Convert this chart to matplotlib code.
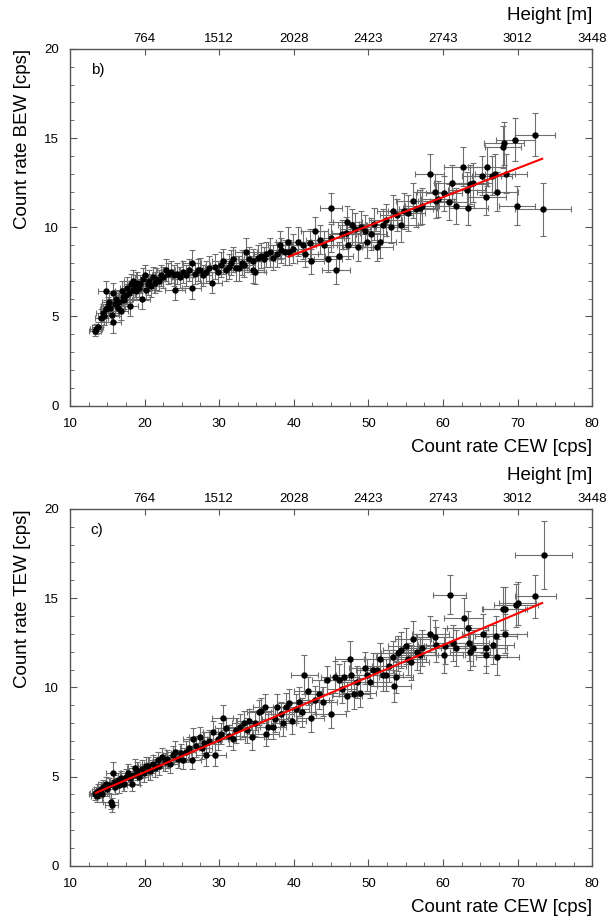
import numpy as np
import matplotlib
matplotlib.use("Agg")
import matplotlib.pyplot as plt
from matplotlib.ticker import MultipleLocator

plt.rcParams['font.family'] = ['Liberation Sans', 'DejaVu Sans']

# --- panel b) BEW vs CEW ---
b_x = [13.3, 13.5, 13.7, 14.2, 14.4, 14.6, 14.8, 14.9, 15.1, 15.2,
       15.4, 15.6, 15.8, 15.8, 16.0, 16.2, 16.4, 16.6, 16.8, 17.0,
       17.1, 17.3, 17.5, 17.7, 17.9, 18.0, 18.2, 18.4, 18.5, 18.7,
       18.9, 19.0, 19.2, 19.4, 19.6, 19.8, 20.0, 20.2, 20.4, 20.6,
       20.9, 21.1, 21.4, 21.6, 21.9, 22.2, 22.5, 22.9, 23.2, 23.6,
       24.0, 24.1, 24.4, 24.7, 25.1, 25.5, 25.9, 26.3, 26.3, 26.7,
       27.1, 27.4, 27.8, 28.2, 28.6, 29.0, 29.4, 29.8, 30.2, 30.5,
       30.9, 31.3, 31.6, 31.9, 32.3, 32.6, 33.0, 33.3, 33.6, 34.0,
       34.5, 34.5, 34.8, 35.2, 35.6, 36.0, 36.3, 36.8, 37.2, 37.7,
       38.1, 38.3, 38.8, 39.2, 39.4, 39.9, 40.6, 41.3, 41.5, 42.2,
       42.3, 42.8, 43.5, 44.0, 44.6, 45.0, 45.0, 45.7, 46.1, 46.5,
       47.0, 47.2, 47.3, 47.8, 48.2, 48.6, 49.0, 49.5, 49.8, 50.4,
       50.8, 51.2, 51.6, 51.9, 52.3, 53.1, 53.3, 53.8, 54.4, 54.8,
       55.3, 56.0, 56.4, 56.9, 57.2, 58.2, 58.9, 59.1, 59.4, 60.1,
       60.8, 61.2, 61.7, 62.7, 63.2, 63.4, 63.6, 64.0, 65.2, 65.8,
       65.9, 66.6, 67.0, 67.3, 68.0, 68.2, 68.4, 69.7, 69.9, 72.3,
       73.4]
b_y = [4.2, 4.3, 4.4, 4.9, 5.2, 5.0, 6.4, 5.4, 5.6, 5.8,
       5.5, 5.1, 6.3, 4.7, 5.7, 6.0, 5.5, 5.8, 5.3, 6.4,
       6.1, 5.9, 6.2, 6.6, 6.3, 5.6, 6.8, 7.0, 6.5, 6.7,
       6.4, 6.9, 6.6, 6.8, 6.0, 7.1, 7.3, 6.5, 6.8, 7.0,
       6.7, 7.2, 6.9, 7.1, 7.0, 7.3, 7.2, 7.6, 7.4, 7.5,
       7.3, 6.5, 7.4, 7.2, 7.5, 7.3, 7.6, 8.0, 6.6, 7.4,
       7.6, 7.6, 7.3, 7.5, 7.7, 6.9, 7.8, 7.5, 7.9, 8.1,
       7.6, 7.8, 8.0, 8.2, 7.7, 7.7, 8.0, 7.9, 8.6, 8.2,
       7.6, 8.1, 7.5, 8.3, 8.4, 8.2, 8.5, 8.6, 8.3, 8.5,
       9.0, 8.7, 8.6, 9.2, 8.6, 8.8, 9.2, 9.0, 8.5, 9.1,
       8.1, 9.8, 9.3, 9.0, 8.2, 11.1, 9.4, 7.6, 8.4, 9.6,
       9.7, 10.3, 9.0, 10.1, 9.9, 8.9, 10.0, 9.8, 9.2, 9.6,
       10.2, 8.9, 9.2, 10.1, 10.4, 10.0, 10.9, 10.7, 10.1, 10.9,
       10.8, 11.5, 11.0, 11.1, 11.2, 13.0, 12.0, 11.5, 11.6, 11.9,
       11.4, 12.5, 11.2, 13.4, 12.1, 11.1, 12.4, 12.5, 12.9, 11.7,
       13.4, 12.9, 13.0, 12.0, 14.5, 14.7, 13.0, 14.9, 11.2, 15.2,
       11.0]
b_xerr = [0.8, 0.8, 0.8, 0.9, 0.9, 0.9, 1.0, 0.9, 0.9, 0.9,
          0.9, 1.0, 1.0, 1.0, 1.0, 0.9, 1.0, 1.0, 1.0, 1.0,
          1.0, 1.0, 1.0, 1.0, 1.0, 1.1, 1.0, 1.1, 1.0, 1.1,
          1.1, 1.1, 1.0, 1.1, 1.1, 1.1, 1.1, 1.1, 1.2, 1.1,
          1.1, 1.2, 1.1, 1.2, 1.2, 1.2, 1.2, 1.2, 1.2, 1.2,
          1.2, 1.3, 1.2, 1.2, 1.3, 1.2, 1.3, 1.3, 1.3, 1.3,
          1.3, 1.3, 1.3, 1.3, 1.4, 1.4, 1.3, 1.4, 1.4, 1.4,
          1.4, 1.4, 1.4, 1.4, 1.5, 1.4, 1.5, 1.5, 1.5, 1.5,
          1.5, 1.5, 1.5, 1.5, 1.6, 1.5, 1.6, 1.6, 1.6, 1.6,
          1.6, 1.6, 1.7, 1.6, 1.7, 1.7, 1.7, 1.7, 1.7, 1.8,
          1.8, 1.8, 1.8, 1.8, 1.9, 1.5, 1.8, 1.9, 1.9, 1.9,
          1.9, 1.9, 2.0, 1.9, 2.0, 2.0, 2.0, 2.0, 2.0, 2.1,
          2.1, 2.1, 2.1, 2.1, 2.2, 2.2, 2.2, 2.2, 2.2, 2.2,
          2.3, 2.3, 2.3, 2.3, 2.3, 2.0, 2.4, 2.4, 2.4, 2.4,
          2.5, 2.4, 2.5, 2.5, 2.5, 2.6, 2.5, 2.6, 2.6, 2.6,
          2.6, 2.7, 2.7, 2.7, 2.4, 2.7, 2.8, 2.6, 2.4, 2.7,
          3.8]
b_yerr = [0.3, 0.3, 0.3, 0.5, 0.5, 0.5, 0.6, 0.5, 0.5, 0.5,
          0.5, 0.5, 0.6, 0.6, 0.5, 0.5, 0.5, 0.5, 0.5, 0.6,
          0.5, 0.5, 0.5, 0.6, 0.5, 0.6, 0.6, 0.6, 0.5, 0.6,
          0.5, 0.6, 0.5, 0.5, 0.6, 0.6, 0.6, 0.6, 0.6, 0.6,
          0.6, 0.6, 0.6, 0.6, 0.6, 0.6, 0.6, 0.6, 0.6, 0.6,
          0.6, 0.6, 0.6, 0.6, 0.6, 0.6, 0.6, 0.7, 0.6, 0.6,
          0.6, 0.7, 0.6, 0.6, 0.7, 0.6, 0.7, 0.6, 0.7, 0.7,
          0.6, 0.7, 0.7, 0.7, 0.7, 0.7, 0.7, 0.7, 0.8, 0.7,
          0.7, 0.7, 0.7, 0.7, 0.7, 0.7, 0.7, 0.8, 0.7, 0.7,
          0.8, 0.7, 0.7, 0.8, 0.7, 0.8, 0.8, 0.8, 0.7, 0.8,
          0.7, 0.8, 0.8, 0.8, 0.7, 0.8, 0.8, 0.8, 0.8, 0.8,
          0.9, 0.9, 0.8, 0.9, 0.9, 0.8, 0.9, 0.9, 0.9, 0.9,
          0.9, 0.8, 0.9, 0.9, 0.9, 0.9, 0.9, 0.9, 0.9, 1.0,
          1.0, 1.0, 1.0, 1.0, 1.0, 1.1, 1.0, 1.0, 1.0, 1.0,
          1.0, 1.0, 1.0, 1.1, 1.0, 1.0, 1.1, 1.1, 1.1, 1.0,
          1.1, 1.1, 1.1, 1.1, 1.2, 1.2, 1.1, 1.2, 1.1, 1.2,
          1.5]
b_fit_x = [39.3, 73.3]
b_fit_y = [8.35, 13.84]

# --- panel c) TEW vs CEW ---
c_x = [13.4, 13.5, 13.6, 13.8, 14.1, 14.3, 14.5, 14.8, 15.0, 15.2,
       15.5, 15.6, 15.8, 15.9, 16.1, 16.4, 16.6, 16.9, 17.2, 17.5,
       17.8, 18.0, 18.3, 18.5, 18.7, 19.0, 19.3, 19.6, 19.9, 20.2,
       20.5, 20.8, 21.1, 21.4, 21.8, 22.0, 22.3, 22.7, 23.0, 23.4,
       23.8, 24.1, 24.5, 24.9, 25.2, 25.6, 26.0, 26.3, 26.5, 26.9,
       27.4, 27.7, 28.0, 28.3, 28.7, 29.2, 29.5, 29.8, 30.2, 30.5,
       30.9, 31.3, 31.9, 32.3, 32.8, 33.3, 33.7, 34.0, 34.4, 34.8,
       35.4, 35.6, 36.1, 36.3, 36.5, 37.2, 37.5, 37.8, 38.3, 38.6,
       39.0, 39.4, 39.8, 40.3, 40.7, 41.1, 41.4, 41.9, 42.3, 42.8,
       43.4, 43.9, 44.4, 45.0, 45.5, 46.0, 46.4, 46.8, 47.1, 47.5,
       47.7, 48.1, 48.5, 48.9, 49.5, 49.8, 50.2, 50.6, 51.1, 51.6,
       51.9, 52.4, 52.8, 53.3, 53.4, 53.7, 54.0, 54.4, 55.0, 55.3,
       55.7, 56.0, 56.5, 56.9, 57.2, 58.3, 58.9, 59.1, 60.1, 60.3,
       60.9, 61.3, 61.7, 62.8, 63.3, 63.5, 63.6, 64.0, 65.3, 65.8,
       65.8, 66.7, 67.1, 67.3, 68.1, 68.3, 68.3, 69.8, 70.0, 72.4,
       73.5]
c_y = [4.0, 4.1, 3.9, 4.2, 4.3, 4.0, 4.4, 4.6, 4.3, 4.5,
       3.6, 3.4, 5.2, 4.7, 4.4, 4.8, 4.5, 4.9, 4.6, 5.0,
       5.2, 4.9, 4.6, 5.1, 5.5, 5.3, 5.0, 5.4, 5.2, 5.6,
       5.6, 5.3, 5.7, 5.5, 5.9, 5.6, 6.1, 5.8, 6.0, 5.7,
       6.2, 6.4, 6.0, 6.3, 5.9, 6.4, 6.6, 5.9, 7.1, 6.7,
       7.2, 6.6, 6.9, 6.2, 7.0, 7.5, 6.2, 7.1, 7.4, 8.3,
       7.7, 7.3, 7.1, 7.6, 7.8, 8.0, 7.6, 8.1, 7.2, 8.0,
       8.6, 8.7, 8.9, 7.4, 7.8, 7.8, 8.2, 8.9, 8.5, 8.0,
       8.9, 9.1, 8.1, 8.8, 9.2, 8.6, 10.7, 9.8, 8.3, 9.3,
       9.6, 9.2, 10.4, 8.5, 10.6, 10.4, 9.9, 10.6, 9.5, 11.6,
       10.7, 9.6, 10.3, 9.7, 11.1, 10.7, 10.3, 11.0, 11.0, 11.6,
       10.7, 10.7, 11.2, 11.7, 10.1, 10.6, 11.9, 12.1, 12.3, 11.6,
       11.4, 12.7, 12.0, 11.8, 12.2, 13.0, 12.8, 12.4, 11.8, 12.3,
       15.2, 12.5, 12.2, 13.9, 13.3, 12.5, 12.0, 12.2, 13.0, 12.2,
       11.8, 12.4, 12.9, 11.7, 14.4, 14.4, 13.0, 14.6, 14.7, 15.1,
       17.4]
c_xerr = [0.8, 0.8, 0.8, 0.9, 0.9, 0.9, 0.9, 1.0, 0.9, 0.9,
          1.0, 0.9, 1.0, 1.0, 1.0, 1.0, 1.0, 1.0, 1.0, 1.0,
          1.1, 1.0, 1.1, 1.1, 1.1, 1.1, 1.1, 1.1, 1.1, 1.1,
          1.1, 1.2, 1.2, 1.1, 1.2, 1.2, 1.2, 1.2, 1.2, 1.2,
          1.3, 1.2, 1.3, 1.3, 1.3, 1.3, 1.3, 1.3, 1.3, 1.3,
          1.4, 1.3, 1.4, 1.4, 1.4, 1.4, 1.4, 1.4, 1.5, 1.4,
          1.5, 1.5, 1.5, 1.5, 1.5, 1.6, 1.5, 1.6, 1.6, 1.6,
          1.6, 1.6, 1.6, 1.7, 1.6, 1.7, 1.7, 1.7, 1.7, 1.7,
          1.8, 1.7, 1.8, 1.8, 1.8, 1.8, 1.8, 1.9, 1.8, 1.9,
          1.9, 1.9, 1.9, 2.0, 1.9, 2.0, 2.0, 2.0, 2.0, 2.0,
          2.0, 2.1, 2.1, 2.1, 2.1, 2.1, 2.2, 2.2, 2.2, 2.2,
          2.2, 2.3, 2.3, 2.3, 2.3, 2.3, 2.3, 2.4, 2.4, 2.4,
          2.4, 2.4, 2.4, 2.5, 2.5, 2.5, 2.5, 2.5, 2.6, 2.6,
          2.2, 2.6, 2.6, 2.6, 2.7, 2.7, 2.7, 2.7, 2.8, 2.8,
          2.8, 2.8, 2.8, 2.9, 2.9, 2.9, 2.9, 3.0, 2.5, 2.7,
          3.8]
c_yerr = [0.3, 0.3, 0.3, 0.4, 0.4, 0.4, 0.4, 0.4, 0.4, 0.4,
          0.4, 0.4, 0.6, 0.4, 0.4, 0.4, 0.4, 0.4, 0.4, 0.4,
          0.5, 0.4, 0.4, 0.5, 0.5, 0.5, 0.5, 0.5, 0.5, 0.5,
          0.5, 0.5, 0.5, 0.5, 0.5, 0.5, 0.5, 0.5, 0.5, 0.5,
          0.5, 0.6, 0.5, 0.5, 0.5, 0.6, 0.6, 0.5, 0.6, 0.6,
          0.6, 0.6, 0.6, 0.6, 0.6, 0.6, 0.6, 0.6, 0.6, 0.7,
          0.6, 0.6, 0.6, 0.7, 0.7, 0.7, 0.7, 0.7, 0.7, 0.7,
          0.7, 0.7, 0.7, 0.7, 0.7, 0.7, 0.7, 0.7, 0.7, 0.7,
          0.8, 0.8, 0.7, 0.8, 0.8, 0.8, 1.1, 0.8, 0.8, 0.8,
          0.8, 0.8, 0.8, 0.8, 0.9, 0.9, 0.8, 0.9, 0.8, 1.0,
          0.9, 0.8, 0.9, 0.8, 0.9, 0.9, 0.9, 0.9, 0.9, 0.9,
          0.9, 0.9, 0.9, 0.9, 0.9, 0.9, 1.0, 1.0, 1.0, 0.9,
          1.0, 1.0, 1.0, 1.0, 1.0, 1.0, 1.0, 1.0, 1.0, 1.0,
          1.1, 1.0, 1.0, 1.1, 1.0, 1.0, 1.0, 1.0, 1.1, 1.0,
          1.0, 1.1, 1.1, 1.0, 1.2, 1.2, 1.1, 1.2, 1.2, 1.2,
          1.9]
c_fit_x = [13.5, 73.3]
c_fit_y = [4.09, 14.73]

top_ticks = [20, 30, 40, 50, 60, 70, 80]
height_labels = ['764', '1512', '2028', '2423', '2743', '3012', '3448']

fig = plt.figure(figsize=(6.08, 9.22), dpi=100)

panels = [
    (b_x, b_y, b_xerr, b_yerr, b_fit_x, b_fit_y, 'Count rate BEW [cps]', 'b)', [0.115, 0.560, 0.859, 0.387]),
    (c_x, c_y, c_xerr, c_yerr, c_fit_x, c_fit_y, 'Count rate TEW [cps]', 'c)', [0.115, 0.061, 0.859, 0.387]),
]

for x, y, xe, ye, fx, fy, ylab, tag, rect in panels:
    ax = fig.add_axes(rect)
    ax.errorbar(x, y, xerr=xe, yerr=ye, fmt='o', color='black', ms=3.6,
                ecolor='#6e6e6e', elinewidth=0.8, capsize=2.2, capthick=0.8, zorder=2)
    ax.plot(fx, fy, color='red', lw=1.5, zorder=3)
    ax.set_xlim(10, 80)
    ax.set_ylim(0, 20)
    ax.xaxis.set_major_locator(MultipleLocator(10))
    ax.xaxis.set_minor_locator(MultipleLocator(2.5))
    ax.yaxis.set_major_locator(MultipleLocator(5))
    ax.yaxis.set_minor_locator(MultipleLocator(1))
    ax.tick_params(which='both', direction='in', right=True, top=False,
                   color='#555555', labelsize=9.5)
    ax.tick_params(which='major', length=5)
    ax.tick_params(which='minor', length=3)
    ax.tick_params(axis='x', pad=9)
    ax.tick_params(axis='y', pad=8)
    for s in ax.spines.values():
        s.set_color('#555555')
        s.set_linewidth(1.0)
    ax.set_xlabel('Count rate CEW [cps]', loc='right', fontsize=13.5, labelpad=6)
    ax.set_ylabel(ylab, loc='top', fontsize=13.5, labelpad=9)
    ax.text(0.04, 0.94, tag, transform=ax.transAxes, fontsize=11, va='center')

    top = ax.twiny()
    top.set_xlim(ax.get_xlim())
    top.set_xticks(top_ticks)
    top.set_xticklabels(height_labels)
    top.tick_params(direction='in', length=4, color='#555555', labelsize=9.5, pad=3)
    top.set_xlabel('Height [m]', loc='right', fontsize=13.5, labelpad=9)
    for s in top.spines.values():
        s.set_visible(False)

fig.savefig('out.png', dpi=100)
